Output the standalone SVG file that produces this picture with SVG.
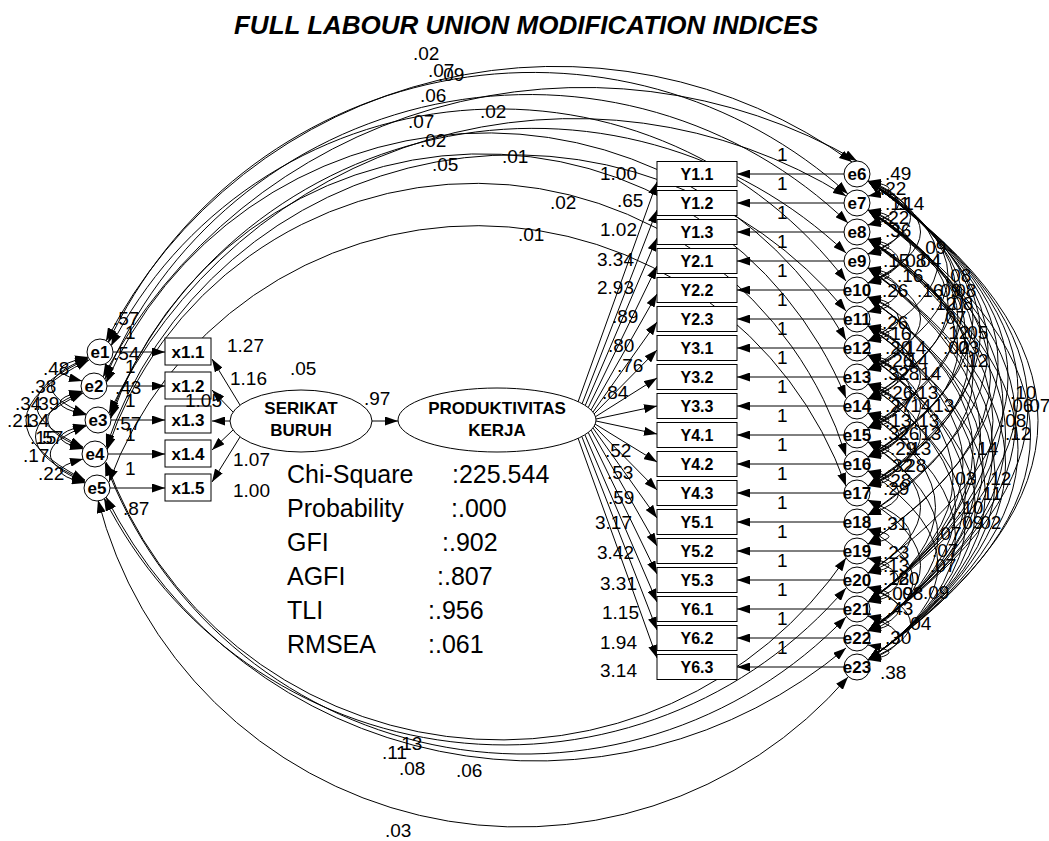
<svg xmlns="http://www.w3.org/2000/svg" width="1049" height="841" viewBox="0 0 1049 841">
<style>
text{font-family:"Liberation Sans",Arial,Helvetica,sans-serif;fill:#000}
.n{font-size:19px}
.bx{font-size:16px;font-weight:bold;text-anchor:middle}
.xb{font-size:17px;font-weight:bold;text-anchor:middle}
.en{font-size:17px;font-weight:bold;text-anchor:middle}
.lv{font-size:17px;font-weight:bold;text-anchor:middle}
.st{font-size:25px}
.ti{font-size:26px;font-weight:bold;font-style:italic;text-anchor:middle}
.c{fill:none;stroke:#000;stroke-width:1}
.d{marker-start:url(#ah);marker-end:url(#ah)}
.s{marker-end:url(#ah)}
rect,ellipse,circle{fill:#fff;stroke:#000;stroke-width:1}
</style>
<defs>
<marker id="ah" viewBox="0 0 13 9" refX="13" refY="4.5" markerWidth="13" markerHeight="9" markerUnits="userSpaceOnUse" orient="auto-start-reverse"><path d="M0 0L13 4.5L0 9z" fill="#000"/></marker>
</defs>
<rect x="0" y="0" width="1049" height="841" style="fill:#fff;stroke:none"/>
<text class="ti" x="526" y="34">FULL LABOUR UNION MODIFICATION INDICES</text>

<g id="connectors" class="c">
<path class="s" d="M113 352H165"/>
<path class="s" d="M107 386H165"/>
<path class="s" d="M111 420H165"/>
<path class="s" d="M108 454H165"/>
<path class="s" d="M110 488H165"/>
<path class="s" d="M240 405L212 359"/>
<path class="s" d="M233 412L212 390"/>
<path class="s" d="M230 421L212 421"/>
<path class="s" d="M233 430L212 450"/>
<path class="s" d="M240 437L212 482"/>
<path class="s" d="M372 421L398 421"/>
<path class="s" d="M578 402L657 182"/>
<path class="s" d="M582 404L657 210"/>
<path class="s" d="M585 406L657 238"/>
<path class="s" d="M588 408L657 266"/>
<path class="s" d="M591 410L657 294"/>
<path class="s" d="M593 412L657 322"/>
<path class="s" d="M594 414L657 350"/>
<path class="s" d="M595 417L657 378"/>
<path class="s" d="M596 419L657 406"/>
<path class="s" d="M596 421L657 434"/>
<path class="s" d="M595 424L657 462"/>
<path class="s" d="M594 426L657 490"/>
<path class="s" d="M593 428L657 518"/>
<path class="s" d="M591 430L657 546"/>
<path class="s" d="M588 432L657 574"/>
<path class="s" d="M585 435L657 602"/>
<path class="s" d="M582 437L657 630"/>
<path class="s" d="M578 438L657 658"/>
<path class="s" d="M844 174H737"/>
<path class="s" d="M844 203H737"/>
<path class="s" d="M844 232H737"/>
<path class="s" d="M844 261H737"/>
<path class="s" d="M844 290H737"/>
<path class="s" d="M844 319H737"/>
<path class="s" d="M844 348H737"/>
<path class="s" d="M844 377H737"/>
<path class="s" d="M844 406H737"/>
<path class="s" d="M844 435H737"/>
<path class="s" d="M844 464H737"/>
<path class="s" d="M844 493H737"/>
<path class="s" d="M844 522H737"/>
<path class="s" d="M844 551H737"/>
<path class="s" d="M844 580H737"/>
<path class="s" d="M844 609H737"/>
<path class="s" d="M844 638H737"/>
<path class="s" d="M844 667H737"/>
<path class="d" d="M88 357Q36 369 82 381"/>
<path class="d" d="M88 358Q16 386 86 414"/>
<path class="d" d="M88 359Q-13 403 83 447"/>
<path class="d" d="M89 360Q-35 420 85 480"/>
<path class="d" d="M82 391Q36 403 86 415"/>
<path class="d" d="M82 392Q13 420 83 448"/>
<path class="d" d="M83 393Q-13 437 85 481"/>
<path class="d" d="M86 425Q37 437 83 449"/>
<path class="d" d="M86 426Q15 454 85 482"/>
<path class="d" d="M83 459Q37 471 85 483"/>
<path class="d" d="M106 341A506 506 0 0 1 852 162"/>
<path class="d" d="M108 343A469 469 0 0 1 848 194"/>
<path class="d" d="M103 377A544 544 0 0 1 857 161"/>
<path class="d" d="M105 379A459 459 0 0 1 848 223"/>
<path class="d" d="M111 346A436 436 0 0 1 846 281"/>
<path class="d" d="M109 413A515 515 0 0 1 846 196"/>
<path class="d" d="M110 416A455 455 0 0 1 846 253"/>
<path class="d" d="M106 383A415 415 0 0 1 846 340"/>
<path class="d" d="M106 447A431 431 0 0 1 846 311"/>
<path class="d" d="M111 418A393 393 0 0 1 846 398"/>
<path class="d" d="M107 450A388 388 0 0 1 846 456"/>
<path class="d" d="M109 482A392 392 0 0 1 846 486"/>
<path class="d" d="M98 500A435 435 0 0 0 848 677"/>
<path class="d" d="M106 462A419 419 0 0 0 846 558"/>
<path class="d" d="M104 498A449 449 0 0 0 846 588"/>
<path class="d" d="M105 463A447 447 0 0 0 846 617"/>
<path class="d" d="M106 497A482 482 0 0 0 846 648"/>
<path class="d" d="M868 181Q910 188.5 868 196"/>
<path class="d" d="M868 210Q910 217.5 868 225"/>
<path class="d" d="M868 239Q910 246.5 868 254"/>
<path class="d" d="M868 268Q910 275.5 868 283"/>
<path class="d" d="M868 297Q910 304.5 868 312"/>
<path class="d" d="M868 326Q910 333.5 868 341"/>
<path class="d" d="M868 355Q910 362.5 868 370"/>
<path class="d" d="M868 384Q910 391.5 868 399"/>
<path class="d" d="M868 413Q910 420.5 868 428"/>
<path class="d" d="M868 442Q910 449.5 868 457"/>
<path class="d" d="M868 471Q910 478.5 868 486"/>
<path class="d" d="M868 529Q910 536.5 868 544"/>
<path class="d" d="M868 558Q910 565.5 868 573"/>
<path class="d" d="M868 587Q910 594.5 868 602"/>
<path class="d" d="M868 616Q910 623.5 868 631"/>
<path class="d" d="M868 645Q910 652.5 868 660"/>
<path class="d" d="M868 181Q930 203 868 225"/>
<path class="d" d="M868 210Q930 232 868 254"/>
<path class="d" d="M868 239Q930 261 868 283"/>
<path class="d" d="M868 268Q930 290 868 312"/>
<path class="d" d="M868 297Q930 319 868 341"/>
<path class="d" d="M868 326Q930 348 868 370"/>
<path class="d" d="M868 355Q930 377 868 399"/>
<path class="d" d="M868 384Q930 406 868 428"/>
<path class="d" d="M868 413Q930 435 868 457"/>
<path class="d" d="M868 442Q930 464 868 486"/>
<path class="d" d="M868 471Q930 493 868 515"/>
<path class="d" d="M868 558Q930 580 868 602"/>
<path class="d" d="M868 587Q930 609 868 631"/>
<path class="d" d="M868 616Q930 638 868 660"/>
<path class="d" d="M868 181Q953 217.5 868 254"/>
<path class="d" d="M868 210Q953 246.5 868 283"/>
<path class="d" d="M868 297Q953 333.5 868 370"/>
<path class="d" d="M868 326Q953 362.5 868 399"/>
<path class="d" d="M868 355Q953 391.5 868 428"/>
<path class="d" d="M868 384Q953 420.5 868 457"/>
<path class="d" d="M868 413Q953 449.5 868 486"/>
<path class="d" d="M868 500Q953 536.5 868 573"/>
<path class="d" d="M868 587Q953 623.5 868 660"/>
<path class="d" d="M868 181Q973 232 868 283"/>
<path class="d" d="M868 268Q973 319 868 370"/>
<path class="d" d="M868 326Q973 377 868 428"/>
<path class="d" d="M868 355Q973 406 868 457"/>
<path class="d" d="M868 384Q973 435 868 486"/>
<path class="d" d="M868 529Q958 580 868 631"/>
<path class="d" d="M868 181Q1008 261 868 341"/>
<path class="d" d="M868 181Q1028 275.5 868 370"/>
<path class="d" d="M868 210Q1028 304.5 868 399"/>
<path class="d" d="M868 181Q1043 290 868 399"/>
<path class="d" d="M868 210Q1048 319 868 428"/>
<path class="d" d="M868 239Q1048 348 868 457"/>
<path class="d" d="M868 181Q1058 304.5 868 428"/>
<path class="d" d="M868 210Q1063 333.5 868 457"/>
<path class="d" d="M868 239Q1068 362.5 868 486"/>
<path class="d" d="M868 181Q1078 319 868 457"/>
<path class="d" d="M868 181Q1093 333.5 868 486"/>
<path class="d" d="M868 210Q1083 348 868 486"/>
<path class="d" d="M868 239Q1078 377 868 515"/>
<path class="d" d="M868 181Q1108 348 868 515"/>
<path class="d" d="M868 210Q1113 377 868 544"/>
<path class="d" d="M868 181Q1128 362.5 868 544"/>
<path class="d" d="M868 181Q1208 420.5 868 660"/>
<path class="d" d="M868 181Q1188 406 868 631"/>
<path class="d" d="M868 210Q1193 435 868 660"/>
<path class="d" d="M868 181Q1168 391.5 868 602"/>
<path class="d" d="M868 210Q1163 420.5 868 631"/>
<path class="d" d="M868 239Q1168 449.5 868 660"/>
<path class="d" d="M868 181Q1148 377 868 573"/>
<path class="d" d="M868 239Q1143 435 868 631"/>
<path class="d" d="M868 268Q1143 464 868 660"/>
<path class="d" d="M868 210Q1138 406 868 602"/>
<path class="d" d="M868 297Q1123 478.5 868 660"/>
<path class="d" d="M868 239Q1118 420.5 868 602"/>
<path class="d" d="M868 268Q1118 449.5 868 631"/>
<path class="d" d="M868 297Q1098 464 868 631"/>
<path class="d" d="M868 326Q1103 493 868 660"/>
<path class="d" d="M868 268Q1093 435 868 602"/>
<path class="d" d="M868 326Q1083 478.5 868 631"/>
<path class="d" d="M868 355Q1083 507.5 868 660"/>
<path class="d" d="M868 297Q1078 449.5 868 602"/>
<path class="d" d="M868 355Q1063 493 868 631"/>
<path class="d" d="M868 384Q1063 522 868 660"/>
<path class="d" d="M868 326Q1058 464 868 602"/>
<path class="d" d="M868 413Q1043 536.5 868 660"/>
<path class="d" d="M868 384Q1043 507.5 868 631"/>
<path class="d" d="M868 355Q1038 478.5 868 602"/>
<path class="d" d="M868 442Q1008 536.5 868 631"/>
<path class="d" d="M868 471Q1008 565.5 868 660"/>
<path class="d" d="M868 413Q1003 507.5 868 602"/>
<path class="d" d="M868 442Q973 507.5 868 573"/>
<path class="d" d="M868 500Q973 565.5 868 631"/>
</g>

<g id="x1.1"><rect x="165" y="338" width="46" height="27"/><text class="xb" x="188" y="358">x1.1</text></g>
<g id="x1.2"><rect x="165" y="372" width="46" height="27"/><text class="xb" x="188" y="392">x1.2</text></g>
<g id="x1.3"><rect x="165" y="406" width="46" height="27"/><text class="xb" x="188" y="426">x1.3</text></g>
<g id="x1.4"><rect x="165" y="440" width="46" height="27"/><text class="xb" x="188" y="460">x1.4</text></g>
<g id="x1.5"><rect x="165" y="474" width="46" height="27"/><text class="xb" x="188" y="494">x1.5</text></g>

<g id="e1"><circle cx="100" cy="352" r="13"/><text class="en" x="100" y="358">e1</text></g>
<g id="e2"><circle cx="94" cy="386" r="13"/><text class="en" x="94" y="392">e2</text></g>
<g id="e3"><circle cx="98" cy="420" r="13"/><text class="en" x="98" y="426">e3</text></g>
<g id="e4"><circle cx="95" cy="454" r="13"/><text class="en" x="95" y="460">e4</text></g>
<g id="e5"><circle cx="97" cy="488" r="13"/><text class="en" x="97" y="494">e5</text></g>

<g id="serikat"><ellipse cx="301" cy="421" rx="71" ry="31"/><text class="lv" x="301" y="414">SERIKAT</text><text class="lv" x="301" y="436">BURUH</text></g>
<g id="produktivitas"><ellipse cx="497" cy="420" rx="99" ry="32"/><text class="lv" x="497" y="414">PRODUKTIVITAS</text><text class="lv" x="497" y="436">KERJA</text></g>

<g id="Y1.1"><rect x="657" y="161.5" width="80" height="25"/><text class="bx" x="697" y="180">Y1.1</text></g>
<g id="Y1.2"><rect x="657" y="190.5" width="80" height="25"/><text class="bx" x="697" y="209">Y1.2</text></g>
<g id="Y1.3"><rect x="657" y="219.5" width="80" height="25"/><text class="bx" x="697" y="238">Y1.3</text></g>
<g id="Y2.1"><rect x="657" y="248.5" width="80" height="25"/><text class="bx" x="697" y="267">Y2.1</text></g>
<g id="Y2.2"><rect x="657" y="277.5" width="80" height="25"/><text class="bx" x="697" y="296">Y2.2</text></g>
<g id="Y2.3"><rect x="657" y="306.5" width="80" height="25"/><text class="bx" x="697" y="325">Y2.3</text></g>
<g id="Y3.1"><rect x="657" y="335.5" width="80" height="25"/><text class="bx" x="697" y="354">Y3.1</text></g>
<g id="Y3.2"><rect x="657" y="364.5" width="80" height="25"/><text class="bx" x="697" y="383">Y3.2</text></g>
<g id="Y3.3"><rect x="657" y="393.5" width="80" height="25"/><text class="bx" x="697" y="412">Y3.3</text></g>
<g id="Y4.1"><rect x="657" y="422.5" width="80" height="25"/><text class="bx" x="697" y="441">Y4.1</text></g>
<g id="Y4.2"><rect x="657" y="451.5" width="80" height="25"/><text class="bx" x="697" y="470">Y4.2</text></g>
<g id="Y4.3"><rect x="657" y="480.5" width="80" height="25"/><text class="bx" x="697" y="499">Y4.3</text></g>
<g id="Y5.1"><rect x="657" y="509.5" width="80" height="25"/><text class="bx" x="697" y="528">Y5.1</text></g>
<g id="Y5.2"><rect x="657" y="538.5" width="80" height="25"/><text class="bx" x="697" y="557">Y5.2</text></g>
<g id="Y5.3"><rect x="657" y="567.5" width="80" height="25"/><text class="bx" x="697" y="586">Y5.3</text></g>
<g id="Y6.1"><rect x="657" y="596.5" width="80" height="25"/><text class="bx" x="697" y="615">Y6.1</text></g>
<g id="Y6.2"><rect x="657" y="625.5" width="80" height="25"/><text class="bx" x="697" y="644">Y6.2</text></g>
<g id="Y6.3"><rect x="657" y="654.5" width="80" height="25"/><text class="bx" x="697" y="673">Y6.3</text></g>

<g id="e6"><circle cx="857" cy="174" r="13"/><text class="en" x="857" y="180">e6</text></g>
<g id="e7"><circle cx="857" cy="203" r="13"/><text class="en" x="857" y="209">e7</text></g>
<g id="e8"><circle cx="857" cy="232" r="13"/><text class="en" x="857" y="238">e8</text></g>
<g id="e9"><circle cx="857" cy="261" r="13"/><text class="en" x="857" y="267">e9</text></g>
<g id="e10"><circle cx="857" cy="290" r="13"/><text class="en" x="857" y="296">e10</text></g>
<g id="e11"><circle cx="857" cy="319" r="13"/><text class="en" x="857" y="325">e11</text></g>
<g id="e12"><circle cx="857" cy="348" r="13"/><text class="en" x="857" y="354">e12</text></g>
<g id="e13"><circle cx="857" cy="377" r="13"/><text class="en" x="857" y="383">e13</text></g>
<g id="e14"><circle cx="857" cy="406" r="13"/><text class="en" x="857" y="412">e14</text></g>
<g id="e15"><circle cx="857" cy="435" r="13"/><text class="en" x="857" y="441">e15</text></g>
<g id="e16"><circle cx="857" cy="464" r="13"/><text class="en" x="857" y="470">e16</text></g>
<g id="e17"><circle cx="857" cy="493" r="13"/><text class="en" x="857" y="499">e17</text></g>
<g id="e18"><circle cx="857" cy="522" r="13"/><text class="en" x="857" y="528">e18</text></g>
<g id="e19"><circle cx="857" cy="551" r="13"/><text class="en" x="857" y="557">e19</text></g>
<g id="e20"><circle cx="857" cy="580" r="13"/><text class="en" x="857" y="586">e20</text></g>
<g id="e21"><circle cx="857" cy="609" r="13"/><text class="en" x="857" y="615">e21</text></g>
<g id="e22"><circle cx="857" cy="638" r="13"/><text class="en" x="857" y="644">e22</text></g>
<g id="e23"><circle cx="857" cy="667" r="13"/><text class="en" x="857" y="673">e23</text></g>

<g id="labels" class="n">
<text x="227" y="352">1.27</text>
<text x="230" y="385">1.16</text>
<text x="185" y="407">1.05</text>
<text x="233" y="466">1.07</text>
<text x="233" y="497">1.00</text>
<text x="290" y="375">.05</text>
<text x="364" y="405">.97</text>
<text x="125" y="339">1</text>
<text x="125" y="373">1</text>
<text x="125" y="407">1</text>
<text x="125" y="441">1</text>
<text x="125" y="475">1</text>
<text x="113" y="325">.57</text>
<text x="113" y="360">.54</text>
<text x="115" y="394">.43</text>
<text x="115" y="430">.57</text>
<text x="123" y="515">.87</text>
<text x="43" y="375">.48</text>
<text x="30" y="393">.38</text>
<text x="15" y="410">.34</text>
<text x="33" y="410">.39</text>
<text x="7" y="427">.21</text>
<text x="23" y="427">.34</text>
<text x="30" y="444">.15</text>
<text x="37" y="444">.57</text>
<text x="23" y="462">.17</text>
<text x="38" y="480">.22</text>
<text x="413" y="60">.02</text>
<text x="428" y="77">.07</text>
<text x="438" y="81">.09</text>
<text x="420" y="102">.06</text>
<text x="480" y="118">.02</text>
<text x="408" y="128">.07</text>
<text x="420" y="147">.02</text>
<text x="432" y="171">.05</text>
<text x="502" y="163">.01</text>
<text x="550" y="209">.02</text>
<text x="518" y="241">.01</text>
<text x="382" y="759">.11</text>
<text x="396" y="750">.13</text>
<text x="399" y="775">.08</text>
<text x="456" y="777">.06</text>
<text x="385" y="837">.03</text>
<text x="600" y="180">1.00</text>
<text x="617" y="207">.65</text>
<text x="600" y="236">1.02</text>
<text x="597" y="266">3.34</text>
<text x="597" y="294">2.93</text>
<text x="612" y="323">.89</text>
<text x="608" y="352">.80</text>
<text x="617" y="372">.76</text>
<text x="602" y="399">.84</text>
<text x="605" y="457">.52</text>
<text x="607" y="479">.53</text>
<text x="608" y="504">.59</text>
<text x="595" y="529">3.17</text>
<text x="597" y="559">3.42</text>
<text x="600" y="590">3.31</text>
<text x="602" y="619">1.15</text>
<text x="600" y="649">1.94</text>
<text x="600" y="677">3.14</text>
<text x="777" y="161">1</text>
<text x="777" y="190">1</text>
<text x="777" y="219">1</text>
<text x="777" y="248">1</text>
<text x="777" y="277">1</text>
<text x="777" y="306">1</text>
<text x="777" y="335">1</text>
<text x="777" y="364">1</text>
<text x="777" y="393">1</text>
<text x="777" y="422">1</text>
<text x="777" y="451">1</text>
<text x="777" y="480">1</text>
<text x="777" y="509">1</text>
<text x="777" y="538">1</text>
<text x="777" y="567">1</text>
<text x="777" y="596">1</text>
<text x="777" y="625">1</text>
<text x="777" y="654">1</text>
<text x="885" y="180">.49</text>
<text x="880" y="195">.22</text>
<text x="885" y="210">.11</text>
<text x="898" y="210">.14</text>
<text x="883" y="224">.22</text>
<text x="885" y="237">.36</text>
<text x="920" y="254">.09</text>
<text x="883" y="267">.15</text>
<text x="900" y="267">.08</text>
<text x="915" y="267">.04</text>
<text x="897" y="282">.16</text>
<text x="945" y="282">.08</text>
<text x="882" y="297">.26</text>
<text x="917" y="297">.16</text>
<text x="935" y="297">.09</text>
<text x="950" y="297">.08</text>
<text x="930" y="310">.12</text>
<text x="947" y="310">.08</text>
<text x="940" y="324">.07</text>
<text x="882" y="329">.26</text>
<text x="943" y="339">.12</text>
<text x="962" y="339">.05</text>
<text x="885" y="340">.16</text>
<text x="885" y="354">.20</text>
<text x="900" y="354">.14</text>
<text x="943" y="354">.02</text>
<text x="953" y="354">.03</text>
<text x="887" y="367">.26</text>
<text x="902" y="367">.14</text>
<text x="962" y="367">.12</text>
<text x="883" y="380">.32</text>
<text x="893" y="380">.28</text>
<text x="915" y="380">.14</text>
<text x="887" y="399">.26</text>
<text x="912" y="399">.13</text>
<text x="1010" y="399">.10</text>
<text x="885" y="412">.27</text>
<text x="905" y="412">.14</text>
<text x="928" y="412">.13</text>
<text x="1007" y="412">.06</text>
<text x="1024" y="412">.07</text>
<text x="885" y="427">.13</text>
<text x="913" y="427">.13</text>
<text x="1000" y="427">.08</text>
<text x="883" y="440">.32</text>
<text x="893" y="440">.26</text>
<text x="915" y="440">.13</text>
<text x="1005" y="440">.12</text>
<text x="890" y="455">.29</text>
<text x="905" y="455">.13</text>
<text x="972" y="455">.14</text>
<text x="887" y="472">.32</text>
<text x="900" y="472">.28</text>
<text x="950" y="485">.03</text>
<text x="985" y="485">.12</text>
<text x="885" y="487">.28</text>
<text x="883" y="495">.29</text>
<text x="977" y="500">.11</text>
<text x="957" y="514">.10</text>
<text x="882" y="530">.31</text>
<text x="957" y="529">.09</text>
<text x="975" y="529">.02</text>
<text x="935" y="540">.07</text>
<text x="932" y="557">.07</text>
<text x="883" y="559">.23</text>
<text x="883" y="572">.13</text>
<text x="930" y="572">.07</text>
<text x="883" y="585">.18</text>
<text x="893" y="585">.20</text>
<text x="887" y="600">.09</text>
<text x="897" y="600">.08</text>
<text x="923" y="599">.09</text>
<text x="887" y="615">.43</text>
<text x="905" y="630">.04</text>
<text x="885" y="644">.30</text>
<text x="880" y="679">.38</text>
</g>

<g id="fit" class="st">
<text x="287" y="483">Chi-Square</text><text x="452" y="483">:225.544</text>
<text x="287" y="517">Probability</text><text x="451" y="517">:.000</text>
<text x="287" y="551">GFI</text><text x="442" y="551">:.902</text>
<text x="287" y="585">AGFI</text><text x="437" y="585">:.807</text>
<text x="287" y="619">TLI</text><text x="428" y="619">:.956</text>
<text x="287" y="653">RMSEA</text><text x="428" y="653">:.061</text>
</g>
</svg>
